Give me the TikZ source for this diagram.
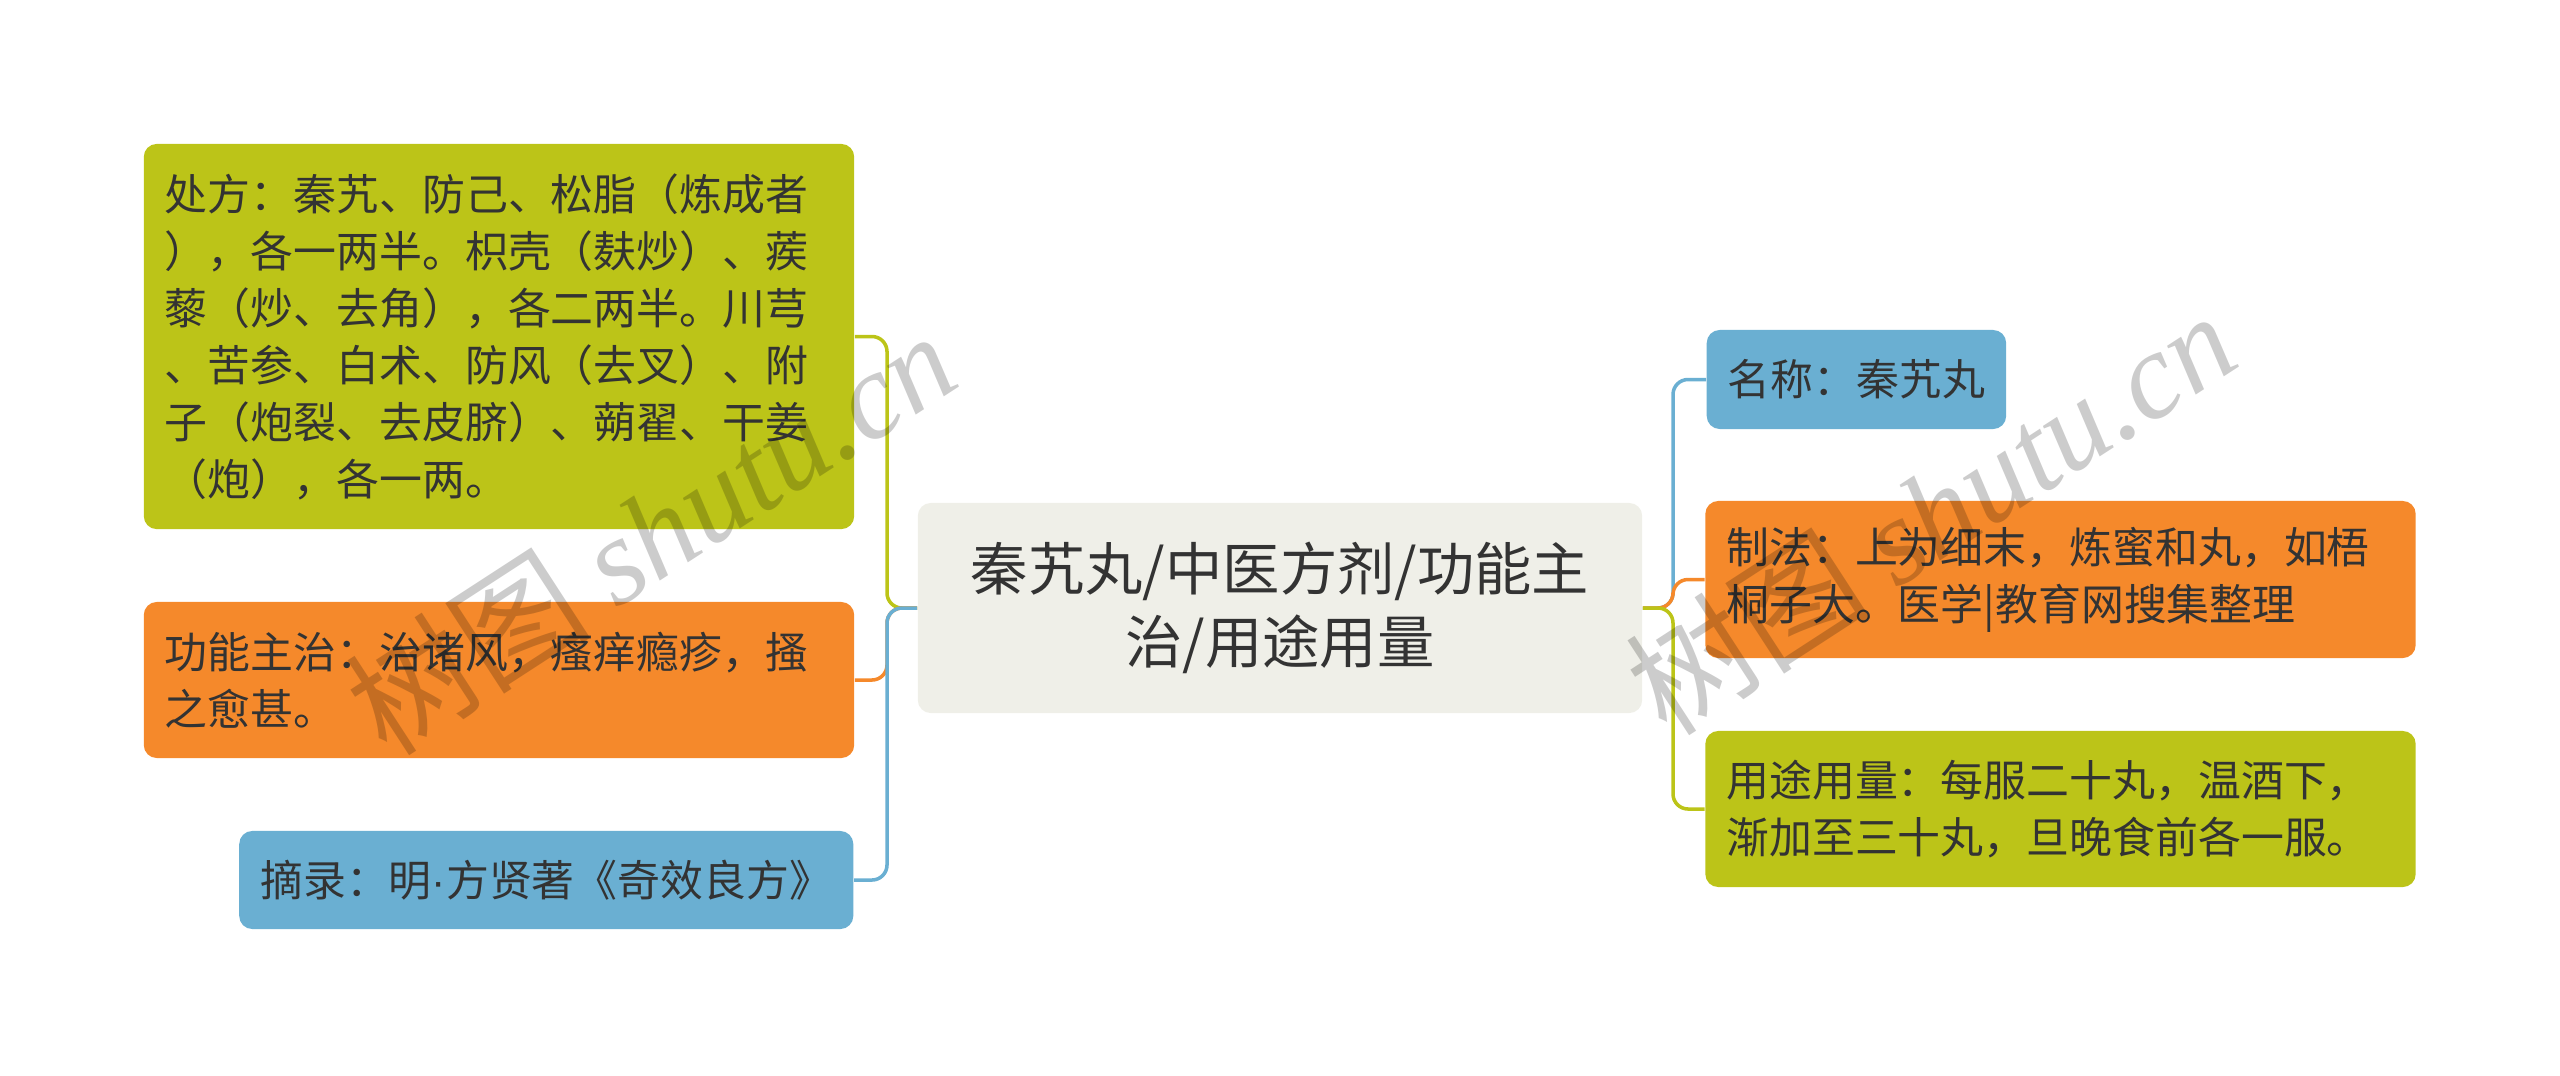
\documentclass[tikz,border=0pt]{standalone}
\usepackage{fontspec}
\setmainfont{Noto Sans CJK SC}
\newfontfamily\wmfont{Liberation Serif}
\newfontfamily\dotfont{Liberation Sans}
\usetikzlibrary{positioning}
\definecolor{mmolive}{RGB}{188,196,24}
\definecolor{mmorange}{RGB}{245,137,43}
\definecolor{mmblue}{RGB}{106,175,210}
\definecolor{mmroot}{RGB}{239,239,232}
\definecolor{mmtext}{RGB}{51,51,51}

\begin{document}
\begin{tikzpicture}[x=0.01cm, y=-0.01cm,
    leaf/.style={rectangle, rounded corners=1.3mm, inner xsep=0.21cm, inner ysep=0pt,
        align=left, text=mmtext, font=\fontsize{12.2}{16.2}\selectfont},
    wide/.style={text width=6.68cm},
    hub/.style={rectangle, rounded corners=1.3mm, fill=mmroot, align=center, text=mmtext,
        minimum width=7.24cm, minimum height=2.10cm, font=\fontsize{16.3}{20.8}\selectfont},
    wire/.style={line width=1pt, rounded corners=0.15cm},
    wm/.style={text=black, text opacity=0.2, font=\fontsize{35}{38}\selectfont}]
    \def\lx{887}   % left spine
    \def\rx{1673}  % right spine

    % canvas
    \useasboundingbox (0,0) rectangle (2560,1075);

    % Root node
    \node[hub] (root) at (1280,608) {秦艽丸/中医方剂/功能主\\治/用途用量};

    % Left branches
    \node[leaf, wide, fill=mmolive, minimum height=3.85cm] (recipe) at (499,336.5)
        {处方：秦艽、防己、松脂（炼成者\\），各一两半。枳壳（麸炒）、蒺\\藜（炒、去角），各二两半。川芎\\、苦参、白术、防风（去叉）、附\\子（炮裂、去皮脐）、蒴翟、干姜\\（炮），各一两。};
    \node[leaf, wide, fill=mmorange, minimum height=1.56cm] (effect) at (499,680)
        {功能主治：治诸风，瘙痒瘾疹，搔\\之愈甚。};
    \node[leaf, fill=mmblue, minimum height=0.98cm, anchor=east] (source) at (854,880)
        {摘录：明{\dotfont ·}方贤著《奇效良方》};

    % Right branches
    \node[leaf, fill=mmblue, minimum height=0.99cm, anchor=west] (name) at (1706,379.5)
        {名称：秦艽丸};
    \node[leaf, wide, fill=mmorange, minimum height=1.57cm] (method) at (2060.5,579.5)
        {制法：上为细末，炼蜜和丸，如梧\\桐子大。医学|教育网搜集整理};
    \node[leaf, wide, fill=mmolive, minimum height=1.56cm] (usage) at (2060.5,809)
        {用途用量：每服二十丸，温酒下，\\渐加至三十丸，旦晚食前各一服。};

    % Connectors
    \draw[wire, mmolive] (root.west) -- (\lx,608) |- (recipe.east);
    \draw[wire, mmorange] (root.west) -- (\lx,608) |- (effect.east);
    \draw[wire, mmblue] (root.west) -- (\lx,608) |- (source.east);
    \draw[wire, mmblue] (root.east) -- (\rx,608) |- (name.west);
    \draw[wire, mmorange] (root.east) -- (\rx,608) |- (method.west);
    \draw[wire, mmolive] (root.east) -- (\rx,608) |- (usage.west);

    % Watermarks
    \node[wm, rotate=33] (wmleft) at (650,532) {树图 {\wmfont\itshape shutu.cn}};
    \node[wm, rotate=33] (wmright) at (1930,512) {树图 {\wmfont\itshape shutu.cn}};
\end{tikzpicture}
\end{document}
